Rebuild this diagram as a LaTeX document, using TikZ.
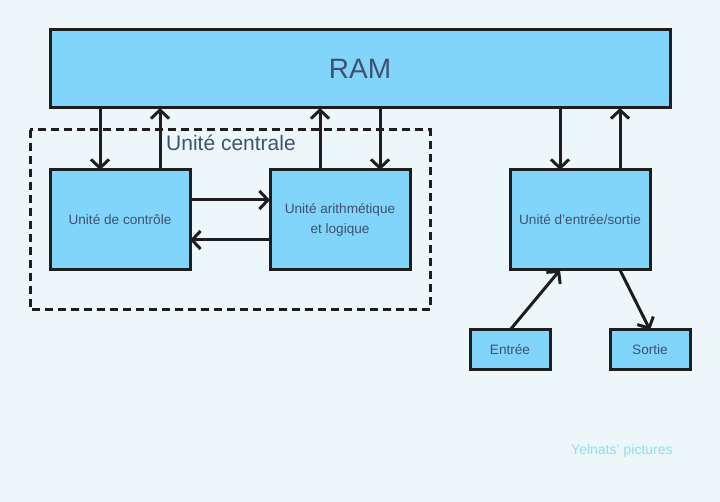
\documentclass[tikz,border=0pt]{standalone}
\usepackage{fontspec}
\setmainfont{Liberation Sans}
\usepackage{xcolor}
\usetikzlibrary{arrows.meta,positioning,calc}
\definecolor{fondbg}{HTML}{EDF6F9}
\definecolor{boxblue}{HTML}{81D4FA}
\definecolor{boxline}{HTML}{1E1E1E}
\definecolor{txtgray}{HTML}{3F5170}
\definecolor{marque}{HTML}{8EDDF0}

\begin{document}
\begin{tikzpicture}[x=1pt,y=-1pt,node distance=80pt,text=txtgray,
    font=\fontsize{13.6}{17}\selectfont]
        \tikzstyle{bloc}=[draw=boxline,line width=3pt,fill=boxblue,minimum width=140pt,minimum height=100pt,align=center,inner sep=0pt,outer sep=0pt]
        \tikzstyle{petit}=[bloc,minimum width=80pt,minimum height=40pt]
        \tikzstyle{fleche}=[draw=boxline,line width=3pt,-{Straight Barb[length=8.5pt,width=18pt]}]
        \useasboundingbox[fill=fondbg] (0,0) rectangle (720,502);
        \node[bloc,minimum width=620pt,minimum height=78pt,font=\fontsize{28}{30}\selectfont] (ram) at (360,69) {RAM};
        \node[bloc] (uc) at (120,220) {Unité de contrôle};
        \node[bloc,right=80pt of uc]  (ual) {Unité arithmétique\\[3pt]et logique};
        \node[bloc,right=100pt of ual] (io) {Unité d'entrée/sortie};
        \node[petit] (entree) at (510,350) {Entrée};
        \node[petit,right=60pt of entree] (sortie) {Sortie};
        % Cadre de l'unite centrale
        \draw[boxline,line width=3pt,dash pattern=on 8pt off 5pt] (30,130) rectangle (430,310);
        \node[anchor=base west,font=\fontsize{21}{24}\selectfont,inner sep=0pt] (ucl) at (166,151) {Unité centrale};
        % Liaisons avec la RAM
        \foreach \u/\d in {uc/-20,ual/40,io/-20}
          \draw[fleche] ([xshift=\d pt]\u.north |- ram.south) -- ([xshift=\d pt]\u.north);
        \foreach \u/\d in {uc/40,ual/-20,io/40}
          \draw[fleche] ([xshift=\d pt]\u.north) -- ([xshift=\d pt]\u.north |- ram.south);
        \draw[fleche] ([yshift=20pt]uc.east) -- ([yshift=20pt]ual.west);
        \draw[fleche] ([yshift=-20pt]ual.west) -- ([yshift=-20pt]uc.east);
        \draw[fleche] (entree.north) -- ([xshift=-20pt]io.south);
        \draw[fleche] ([xshift=40pt]io.south) -- (sortie.north);
        \node[text=marque,anchor=base west,inner sep=0pt,font=\fontsize{14}{17}\selectfont] (sig) at (571,454) {Yelnats' pictures};
      \end{tikzpicture}
\end{document}
